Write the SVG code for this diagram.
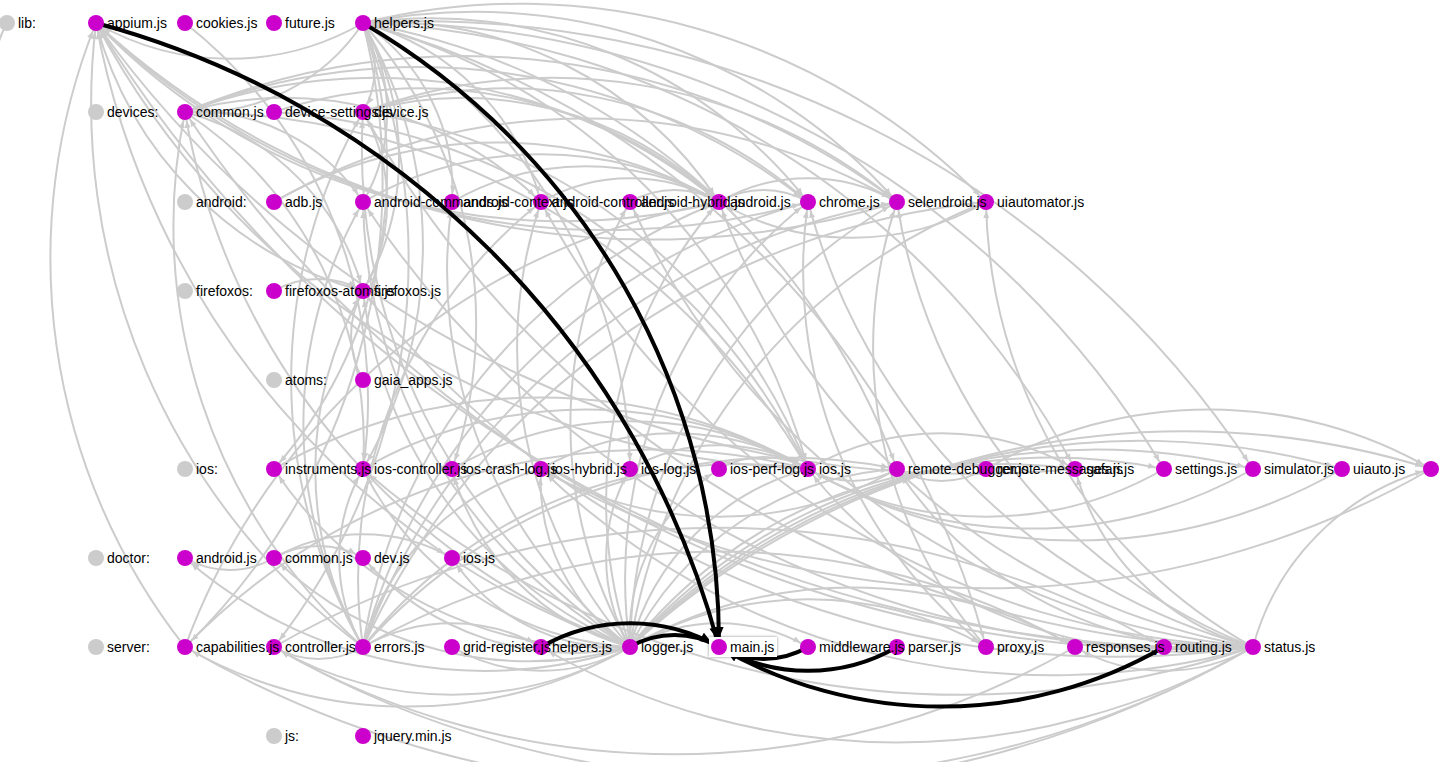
<svg xmlns="http://www.w3.org/2000/svg" width="1439" height="762" viewBox="0 0 1439 762">
<defs>
<style>
.e path{fill:none;stroke:#ccc;stroke-width:2;marker-end:url(#ag)}
.b path{fill:none;stroke:#000;stroke-width:4;marker-end:url(#ab)}
.n circle{fill:#cc00cc}
.g circle{fill:#cccccc}
text{font-family:"Liberation Sans",Arial,Helvetica,sans-serif;font-size:14px;fill:#000}
</style>
<marker id="ag" markerUnits="userSpaceOnUse" viewBox="0 -5 20 10" markerWidth="20" markerHeight="10" refX="16" refY="0" orient="auto" overflow="visible"><path d="M0,-3 L7,0 L0,3 Z" fill="#ccc"/></marker>
<marker id="ab" markerUnits="userSpaceOnUse" viewBox="0 -6 24 12" markerWidth="24" markerHeight="12" refX="20" refY="0" orient="auto" overflow="visible"><path d="M0,-4.5 L11,0 L0,4.5 Z" fill="#000"/></marker>
<filter id="sh" x="-20%" y="-30%" width="140%" height="160%"><feDropShadow dx="0" dy="0" stdDeviation="1.5" flood-color="#000" flood-opacity="0.45"/></filter>
</defs>
<g id="connectors">
<g class="e">
<path d="M7 23 Q2 32 -2 44" style="marker-end:none"/>
<path d="M630 647 A821 821 0 0 1 96 23"/>
<path d="M630 647 A695 695 0 0 1 185 112"/>
<path d="M630 647 A597 597 0 0 1 363 112"/>
<path d="M630 647 A519 519 0 0 1 363 202"/>
<path d="M630 647 A479 479 0 0 1 452 202"/>
<path d="M630 647 A454 454 0 0 1 541 202"/>
<path d="M630 647 A445 445 0 0 1 630 202"/>
<path d="M630 647 A454 454 0 0 1 719 202"/>
<path d="M630 647 A479 479 0 0 1 808 202"/>
<path d="M630 647 A519 519 0 0 1 897 202"/>
<path d="M630 647 A570 570 0 0 1 986 202"/>
<path d="M630 647 A445 445 0 0 1 363 291"/>
<path d="M630 647 A398 398 0 0 1 274 469"/>
<path d="M630 647 A321 321 0 0 1 363 469"/>
<path d="M630 647 A252 252 0 0 1 452 469"/>
<path d="M630 647 A199 199 0 0 1 541 469"/>
<path d="M630 647 A178 178 0 0 1 630 469"/>
<path d="M630 647 A199 199 0 0 1 719 469"/>
<path d="M630 647 A252 252 0 0 1 808 469"/>
<path d="M630 647 A321 321 0 0 1 897 469"/>
<path d="M630 647 A479 479 0 0 1 1075 469"/>
<path d="M630 647 A563 563 0 0 1 1164 469"/>
<path d="M630 647 A648 648 0 0 1 1253 469"/>
<path d="M630 647 A734 734 0 0 1 1342 469"/>
<path d="M630 647 A821 821 0 0 1 1431 469"/>
<path d="M630 647 A454 454 0 0 1 185 558"/>
<path d="M630 647 A367 367 0 0 1 274 558"/>
<path d="M630 647 A281 281 0 0 1 363 558"/>
<path d="M630 647 A199 199 0 0 1 452 558"/>
<path d="M630 647 A445 445 0 0 1 185 647"/>
<path d="M630 647 A356 356 0 0 1 274 647"/>
<path d="M630 647 A178 178 0 0 1 452 647"/>
<path d="M630 647 A178 178 0 0 1 808 647"/>
<path d="M630 647 A356 356 0 0 1 986 647"/>
<path d="M630 647 A445 445 0 0 1 1075 647"/>
<path d="M1253 647 A1314 1314 0 0 1 96 23"/>
<path d="M1253 647 A1194 1194 0 0 1 185 112"/>
<path d="M1253 647 A1038 1038 0 0 1 363 112"/>
<path d="M1253 647 A995 995 0 0 1 363 202"/>
<path d="M1253 647 A840 840 0 0 1 541 202"/>
<path d="M1253 647 A766 766 0 0 1 630 202"/>
<path d="M1253 647 A695 695 0 0 1 719 202"/>
<path d="M1253 647 A629 629 0 0 1 808 202"/>
<path d="M1253 647 A570 570 0 0 1 897 202"/>
<path d="M1253 647 A519 519 0 0 1 986 202"/>
<path d="M1253 647 A959 959 0 0 1 363 291"/>
<path d="M1253 647 A908 908 0 0 1 363 469"/>
<path d="M1253 647 A734 734 0 0 1 541 469"/>
<path d="M1253 647 A479 479 0 0 1 808 469"/>
<path d="M1253 647 A398 398 0 0 1 897 469"/>
<path d="M1253 647 A252 252 0 0 1 1075 469"/>
<path d="M1253 647 A252 252 0 0 1 1431 469"/>
<path d="M1253 647 A979 979 0 0 1 274 647"/>
<path d="M1253 647 A178 178 0 0 1 1075 647"/>
<path d="M1253 647 A712 712 0 0 1 541 647"/>
<path d="M1253 647 A1068 1068 0 0 1 185 647"/>
<path d="M363 647 A678 678 0 0 1 96 23"/>
<path d="M363 647 A563 563 0 0 1 185 112"/>
<path d="M363 647 A534 534 0 0 1 363 112"/>
<path d="M363 647 A445 445 0 0 1 363 202"/>
<path d="M363 647 A479 479 0 0 1 541 202"/>
<path d="M363 647 A570 570 0 0 1 719 202"/>
<path d="M363 647 A629 629 0 0 1 808 202"/>
<path d="M363 647 A695 695 0 0 1 897 202"/>
<path d="M363 647 A766 766 0 0 1 986 202"/>
<path d="M363 647 A356 356 0 0 1 363 291"/>
<path d="M363 647 A178 178 0 0 1 363 469"/>
<path d="M363 647 A479 479 0 0 1 808 469"/>
<path d="M363 647 A563 563 0 0 1 897 469"/>
<path d="M363 647 A252 252 0 0 1 541 469"/>
<path d="M363 647 A89 89 0 0 1 274 647"/>
<path d="M363 647 A712 712 0 0 1 1075 647"/>
<path d="M363 647 A178 178 0 0 1 541 647"/>
<path d="M363 23 A267 267 0 0 1 96 23"/>
<path d="M363 23 A199 199 0 0 1 185 112"/>
<path d="M363 23 A89 89 0 0 1 363 112"/>
<path d="M363 23 A178 178 0 0 1 363 202"/>
<path d="M363 23 A199 199 0 0 1 452 202"/>
<path d="M363 23 A252 252 0 0 1 541 202"/>
<path d="M363 23 A398 398 0 0 1 719 202"/>
<path d="M363 23 A479 479 0 0 1 808 202"/>
<path d="M363 23 A563 563 0 0 1 897 202"/>
<path d="M363 23 A648 648 0 0 1 986 202"/>
<path d="M363 23 A267 267 0 0 1 363 291"/>
<path d="M363 23 A454 454 0 0 1 274 469"/>
<path d="M363 23 A445 445 0 0 1 363 469"/>
<path d="M363 23 A454 454 0 0 1 452 469"/>
<path d="M363 23 A519 519 0 0 1 630 469"/>
<path d="M363 23 A629 629 0 0 1 808 469"/>
<path d="M363 23 A695 695 0 0 1 897 469"/>
<path d="M363 23 A840 840 0 0 1 1075 469"/>
<path d="M363 23 A916 916 0 0 1 1164 469"/>
<path d="M363 23 A995 995 0 0 1 1253 469"/>
<path d="M363 23 A648 648 0 0 1 185 647"/>
<path d="M363 23 A629 629 0 0 1 274 647"/>
<path d="M363 23 A881 881 0 0 1 986 647"/>
<path d="M185 112 A541 541 0 0 1 719 202"/>
<path d="M185 112 A629 629 0 0 1 808 202"/>
<path d="M185 112 A718 718 0 0 1 897 202"/>
<path d="M185 112 A252 252 0 0 1 363 291"/>
<path d="M185 112 A718 718 0 0 1 808 469"/>
<path d="M185 112 A199 199 0 0 1 363 202"/>
<path d="M185 112 A367 367 0 0 1 541 202"/>
<path d="M185 112 A398 398 0 0 1 363 469"/>
<path d="M363 112 A367 367 0 0 1 719 202"/>
<path d="M363 112 A454 454 0 0 1 808 202"/>
<path d="M363 112 A541 541 0 0 1 897 202"/>
<path d="M363 112 A178 178 0 0 1 363 291"/>
<path d="M363 112 A570 570 0 0 1 808 469"/>
<path d="M274 112 A454 454 0 0 1 719 202"/>
<path d="M274 112 A642 642 0 0 1 808 469"/>
<path d="M274 202 A445 445 0 0 1 719 202"/>
<path d="M541 202 A178 178 0 0 1 719 202"/>
<path d="M452 202 A267 267 0 0 1 719 202"/>
<path d="M363 202 A356 356 0 0 1 719 202"/>
<path d="M630 202 A89 89 0 0 1 719 202"/>
<path d="M986 202 A267 267 0 0 1 719 202"/>
<path d="M719 202 A89 89 0 0 1 808 202"/>
<path d="M719 202 A178 178 0 0 1 897 202"/>
<path d="M719 202 A648 648 0 0 1 96 23"/>
<path d="M808 202 A734 734 0 0 1 96 23"/>
<path d="M897 202 A821 821 0 0 1 96 23"/>
<path d="M274 202 A623 623 0 0 1 897 202"/>
<path d="M986 647 A454 454 0 0 1 897 202"/>
<path d="M986 647 A479 479 0 0 1 808 202"/>
<path d="M185 647 A695 695 0 0 1 719 202"/>
<path d="M185 647 A648 648 0 0 1 808 469"/>
<path d="M185 647 A629 629 0 0 1 96 23"/>
<path d="M274 291 A89 89 0 0 1 363 291"/>
<path d="M363 380 A89 89 0 0 1 363 291"/>
<path d="M363 291 A378 378 0 0 1 96 23"/>
<path d="M274 469 A534 534 0 0 1 808 469"/>
<path d="M363 469 A445 445 0 0 1 808 469"/>
<path d="M452 469 A356 356 0 0 1 808 469"/>
<path d="M541 469 A267 267 0 0 1 808 469"/>
<path d="M630 469 A178 178 0 0 1 808 469"/>
<path d="M719 469 A89 89 0 0 1 808 469"/>
<path d="M1164 469 A356 356 0 0 1 808 469"/>
<path d="M1253 469 A445 445 0 0 1 808 469"/>
<path d="M1342 469 A534 534 0 0 1 808 469"/>
<path d="M897 469 A356 356 0 0 1 541 469"/>
<path d="M986 469 A89 89 0 0 1 897 469"/>
<path d="M986 469 A445 445 0 0 1 1431 469"/>
<path d="M897 469 A89 89 0 0 1 808 469"/>
<path d="M808 469 A267 267 0 0 1 1075 469"/>
<path d="M808 469 A840 840 0 0 1 96 23"/>
<path d="M1075 469 A1075 1075 0 0 1 96 23"/>
<path d="M1431 469 A890 890 0 0 1 541 469"/>
<path d="M185 23 A479 479 0 0 1 363 469"/>
<path d="M274 558 A89 89 0 0 1 185 558"/>
<path d="M274 558 A89 89 0 0 1 363 558"/>
<path d="M274 558 A178 178 0 0 1 452 558"/>
<path d="M274 647 A890 890 0 0 1 1164 647"/>
<path d="M1075 647 A801 801 0 0 1 274 647"/>
</g>
<g class="b">
<path d="M96 23 A881 881 0 0 1 719 647"/>
<path d="M363 23 A718 718 0 0 1 719 647"/>
<path d="M541 647 A178 178 0 0 1 719 647"/>
<path d="M630 647 A89 89 0 0 1 719 647"/>
<path d="M808 647 A89 89 0 0 1 719 647"/>
<path d="M897 647 A178 178 0 0 1 719 647"/>
<path d="M1164 647 A445 445 0 0 1 719 647"/>
</g>
</g>
<g id="nodes">
<g id="lib-helpers" class="n"><circle cx="363" cy="23" r="8"/><text x="374" y="28">helpers.js</text></g>
<g id="lib-future" class="n"><circle cx="274" cy="23" r="8"/><text x="285" y="28">future.js</text></g>
<g id="lib-cookies" class="n"><circle cx="185" cy="23" r="8"/><text x="196" y="28">cookies.js</text></g>
<g id="lib-appium" class="n"><circle cx="96" cy="23" r="8"/><text x="107" y="28">appium.js</text></g>
<g id="dir-lib" class="g"><circle cx="7" cy="23" r="8"/><text x="18" y="28">lib:</text></g>

<g id="devices-device" class="n"><circle cx="363" cy="112" r="8"/><text x="374" y="117">device.js</text></g>
<g id="devices-device-settings" class="n"><circle cx="274" cy="112" r="8"/><text x="285" y="117">device-settings.js</text></g>
<g id="devices-common" class="n"><circle cx="185" cy="112" r="8"/><text x="196" y="117">common.js</text></g>
<g id="dir-devices" class="g"><circle cx="96" cy="112" r="8"/><text x="107" y="117">devices:</text></g>

<g id="android-uiautomator" class="n"><circle cx="986" cy="202" r="8"/><text x="997" y="207">uiautomator.js</text></g>
<g id="android-selendroid" class="n"><circle cx="897" cy="202" r="8"/><text x="908" y="207">selendroid.js</text></g>
<g id="android-chrome" class="n"><circle cx="808" cy="202" r="8"/><text x="819" y="207">chrome.js</text></g>
<g id="android-android" class="n"><circle cx="719" cy="202" r="8"/><text x="730" y="207">android.js</text></g>
<g id="android-hybrid" class="n"><circle cx="630" cy="202" r="8"/><text x="641" y="207">android-hybrid.js</text></g>
<g id="android-controller" class="n"><circle cx="541" cy="202" r="8"/><text x="552" y="207">android-controller.js</text></g>
<g id="android-context" class="n"><circle cx="452" cy="202" r="8"/><text x="463" y="207">android-context.js</text></g>
<g id="android-commands" class="n"><circle cx="363" cy="202" r="8"/><text x="374" y="207">android-commands.js</text></g>
<g id="android-adb" class="n"><circle cx="274" cy="202" r="8"/><text x="285" y="207">adb.js</text></g>
<g id="dir-android" class="g"><circle cx="185" cy="202" r="8"/><text x="196" y="207">android:</text></g>

<g id="firefoxos-firefoxos" class="n"><circle cx="363" cy="291" r="8"/><text x="374" y="296">firefoxos.js</text></g>
<g id="firefoxos-atoms" class="n"><circle cx="274" cy="291" r="8"/><text x="285" y="296">firefoxos-atoms.js</text></g>
<g id="dir-firefoxos" class="g"><circle cx="185" cy="291" r="8"/><text x="196" y="296">firefoxos:</text></g>

<g id="atoms-gaia-apps" class="n"><circle cx="363" cy="380" r="8"/><text x="374" y="385">gaia_apps.js</text></g>
<g id="dir-atoms" class="g"><circle cx="274" cy="380" r="8"/><text x="285" y="385">atoms:</text></g>

<g id="ios-webkit" class="n"><circle cx="1431" cy="469" r="8"/></g>
<g id="ios-uiauto" class="n"><circle cx="1342" cy="469" r="8"/><text x="1353" y="474">uiauto.js</text></g>
<g id="ios-simulator" class="n"><circle cx="1253" cy="469" r="8"/><text x="1264" y="474">simulator.js</text></g>
<g id="ios-settings" class="n"><circle cx="1164" cy="469" r="8"/><text x="1175" y="474">settings.js</text></g>
<g id="ios-safari" class="n"><circle cx="1075" cy="469" r="8"/><text x="1086" y="474">safari.js</text></g>
<g id="ios-remote-messages" class="n"><circle cx="986" cy="469" r="8"/><text x="997" y="474">remote-messages.js</text></g>
<g id="ios-remote-debugger" class="n"><circle cx="897" cy="469" r="8"/><text x="908" y="474">remote-debugger.js</text></g>
<g id="ios-ios" class="n"><circle cx="808" cy="469" r="8"/><text x="819" y="474">ios.js</text></g>
<g id="ios-perf-log" class="n"><circle cx="719" cy="469" r="8"/><text x="730" y="474">ios-perf-log.js</text></g>
<g id="ios-log" class="n"><circle cx="630" cy="469" r="8"/><text x="641" y="474">ios-log.js</text></g>
<g id="ios-hybrid" class="n"><circle cx="541" cy="469" r="8"/><text x="552" y="474">ios-hybrid.js</text></g>
<g id="ios-crash-log" class="n"><circle cx="452" cy="469" r="8"/><text x="463" y="474">ios-crash-log.js</text></g>
<g id="ios-controller" class="n"><circle cx="363" cy="469" r="8"/><text x="374" y="474">ios-controller.js</text></g>
<g id="ios-instruments" class="n"><circle cx="274" cy="469" r="8"/><text x="285" y="474">instruments.js</text></g>
<g id="dir-ios" class="g"><circle cx="185" cy="469" r="8"/><text x="196" y="474">ios:</text></g>

<g id="doctor-ios" class="n"><circle cx="452" cy="558" r="8"/><text x="463" y="563">ios.js</text></g>
<g id="doctor-dev" class="n"><circle cx="363" cy="558" r="8"/><text x="374" y="563">dev.js</text></g>
<g id="doctor-common" class="n"><circle cx="274" cy="558" r="8"/><text x="285" y="563">common.js</text></g>
<g id="doctor-android" class="n"><circle cx="185" cy="558" r="8"/><text x="196" y="563">android.js</text></g>
<g id="dir-doctor" class="g"><circle cx="96" cy="558" r="8"/><text x="107" y="563">doctor:</text></g>

<g id="server-status" class="n"><circle cx="1253" cy="647" r="8"/><text x="1264" y="652">status.js</text></g>
<g id="server-routing" class="n"><circle cx="1164" cy="647" r="8"/><text x="1175" y="652">routing.js</text></g>
<g id="server-responses" class="n"><circle cx="1075" cy="647" r="8"/><text x="1086" y="652">responses.js</text></g>
<g id="server-proxy" class="n"><circle cx="986" cy="647" r="8"/><text x="997" y="652">proxy.js</text></g>
<g id="server-parser" class="n"><circle cx="897" cy="647" r="8"/><text x="908" y="652">parser.js</text></g>
<g id="server-middleware" class="n"><circle cx="808" cy="647" r="8"/><text x="819" y="652">middleware.js</text></g>
<g id="server-main" class="n"><rect x="709" y="637" width="68" height="20" fill="#fff" filter="url(#sh)"/><circle cx="719" cy="647" r="8"/><text x="730" y="652">main.js</text></g>
<g id="server-logger" class="n"><circle cx="630" cy="647" r="8"/><text x="641" y="652">logger.js</text></g>
<g id="server-helpers" class="n"><circle cx="541" cy="647" r="8"/><text x="552" y="652">helpers.js</text></g>
<g id="server-grid-register" class="n"><circle cx="452" cy="647" r="8"/><text x="463" y="652">grid-register.js</text></g>
<g id="server-errors" class="n"><circle cx="363" cy="647" r="8"/><text x="374" y="652">errors.js</text></g>
<g id="server-controller" class="n"><circle cx="274" cy="647" r="8"/><text x="285" y="652">controller.js</text></g>
<g id="server-capabilities" class="n"><circle cx="185" cy="647" r="8"/><text x="196" y="652">capabilities.js</text></g>
<g id="dir-server" class="g"><circle cx="96" cy="647" r="8"/><text x="107" y="652">server:</text></g>

<g id="js-jquery" class="n"><circle cx="363" cy="736" r="8"/><text x="374" y="741">jquery.min.js</text></g>
<g id="dir-js" class="g"><circle cx="274" cy="736" r="8"/><text x="285" y="741">js:</text></g>
</g>
</svg>
